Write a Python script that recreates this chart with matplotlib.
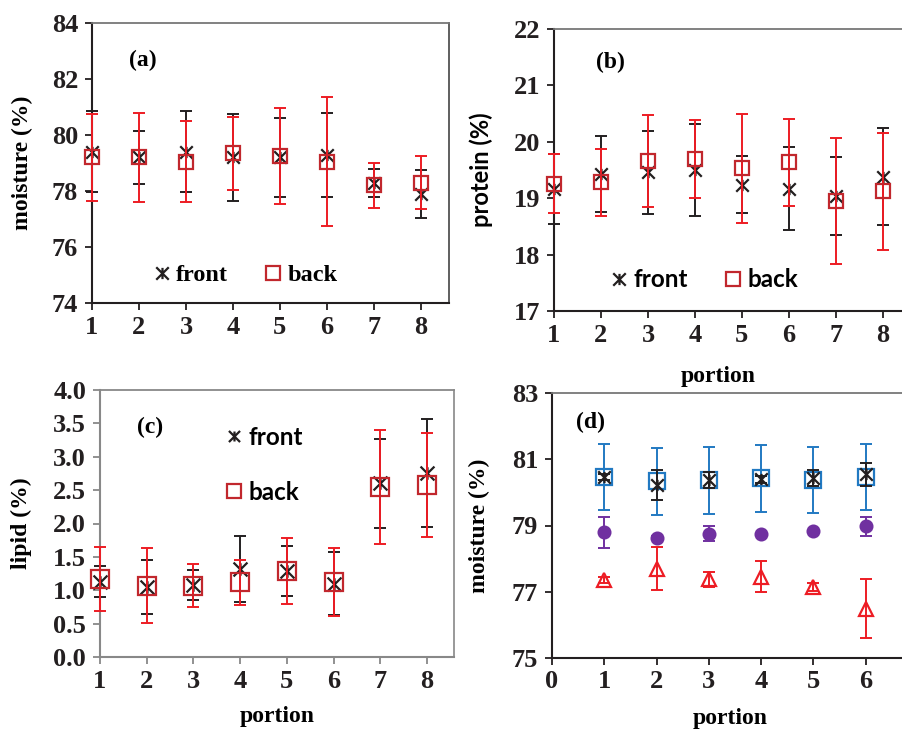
import numpy as np
import matplotlib
matplotlib.use("Agg")
import matplotlib.pyplot as plt
from matplotlib.path import Path
from matplotlib.lines import Line2D

# ---- data ----
portion8 = [1, 2, 3, 4, 5, 6, 7, 8]
portion6 = [1, 2, 3, 4, 5, 6]

moist_front = [79.4, 79.2, 79.4, 79.2, 79.2, 79.3, 78.3, 77.9]
moist_front_err = [1.45, 0.95, 1.45, 1.55, 1.4, 1.5, 0.5, 0.85]
moist_back = [79.2, 79.2, 79.05, 79.35, 79.25, 79.05, 78.2, 78.3]
moist_back_err = [1.55, 1.6, 1.45, 1.3, 1.7, 2.3, 0.8, 0.95]

prot_front = [19.17, 19.43, 19.46, 19.5, 19.24, 19.17, 19.04, 19.38]
prot_front_err = [0.62, 0.67, 0.74, 0.82, 0.5, 0.73, 0.69, 0.86]
prot_back = [19.26, 19.28, 19.66, 19.7, 19.53, 19.64, 18.95, 19.12]
prot_back_err = [0.53, 0.6, 0.82, 0.69, 0.97, 0.77, 1.12, 1.04]

lipid_front = [1.13, 1.05, 1.08, 1.32, 1.29, 1.10, 2.60, 2.76]
lipid_front_err = [0.23, 0.41, 0.23, 0.49, 0.38, 0.47, 0.67, 0.81]
lipid_back = [1.17, 1.07, 1.07, 1.12, 1.29, 1.13, 2.55, 2.58]
lipid_back_err = [0.48, 0.56, 0.32, 0.34, 0.5, 0.51, 0.85, 0.78]

d_blue = [80.46, 80.33, 80.36, 80.42, 80.38, 80.47]
d_blue_err = [1.0, 1.0, 1.0, 1.0, 1.0, 1.0]
d_black = [80.46, 80.23, 80.38, 80.39, 80.43, 80.54]
d_black_err = [0.1, 0.45, 0.25, 0.1, 0.25, 0.35]
d_purple = [78.8, 78.63, 78.75, 78.75, 78.82, 78.98]
d_purple_err = [0.47, 0.05, 0.23, 0.0, 0.0, 0.29]
d_red = [77.35, 77.7, 77.38, 77.45, 77.15, 76.49]
d_red_err = [0.1, 0.65, 0.23, 0.47, 0.12, 0.88]

BLACK = "#231F20"
RED = "#ED1C24"
DRED = "#C1272D"
BLUE = "#2179C2"
PURPLE = "#7030A0"
SERIF = "Liberation Serif"
SANS = "Lato"

star = Path([(-1, -1), (1, 1), (-1, 1), (1, -1), (0, -0.9), (0, 0.9)],
            [Path.MOVETO, Path.LINETO, Path.MOVETO, Path.LINETO,
             Path.MOVETO, Path.LINETO])

W, H = 903, 730
fig = plt.figure(figsize=(W / 100, H / 100), dpi=100)


def axes_px(left, top, right, bottom):
    return fig.add_axes([left / W, 1 - bottom / H, (right - left) / W,
                         (bottom - top) / H])


def style(ax, grey=False):
    main = "#888888" if grey else BLACK
    for s in ["left", "bottom"]:
        ax.spines[s].set_color(main)
        ax.spines[s].set_linewidth(1.5)
    ax.spines["top"].set_color("#777777" if not grey else main)
    ax.spines["right"].set_color("#444444" if not grey else main)
    ax.spines["top"].set_linewidth(1.3)
    ax.spines["right"].set_linewidth(1.2)
    ax.tick_params(direction="out", length=5, width=1.3, color=main,
                   labelsize=19)
    ax.tick_params(axis="y", pad=5)
    ax.tick_params(axis="x", pad=4)
    for lab in ax.get_xticklabels() + ax.get_yticklabels():
        lab.set_fontfamily(SERIF)
        lab.set_fontweight("bold")
        lab.set_color(BLACK)


def eb(ax, x, y, e, marker, ms, ec, fc, bar, mew=1.6, z=3):
    ax.errorbar(x, y, yerr=e, fmt="none", ecolor=bar, elinewidth=1.4,
                capsize=4.3, capthick=1.4, zorder=z, clip_on=False)
    ax.plot(x, y, linestyle="none", marker=marker, ms=ms, mec=ec, mfc=fc,
            mew=mew, zorder=z + 0.5, clip_on=False)


LAB = 17

# ---- (a) moisture ----
ax = axes_px(92, 23, 449, 303)
eb(ax, portion8, moist_front, moist_front_err, star, 9, BLACK, "none", BLACK)
eb(ax, portion8, moist_back, moist_back_err, "s", 10.5, DRED, "none", RED, z=4)
ax.set_xlim(1, 8.6)
ax.set_ylim(74, 84)
ax.set_xticks(portion8)
ax.set_yticks(np.arange(74, 85, 2))
style(ax)
ax.set_ylabel("moisture (%)", fontfamily=SERIF, fontweight="bold", fontsize=LAB)
ax.yaxis.set_label_coords(-0.165, 0.5)
ax.text(0.143, 0.868, "(a)", transform=ax.transAxes, ha="center", va="center",
        fontfamily=SERIF, fontweight="bold", fontsize=17)
h = [Line2D([], [], ls="none", marker=star, ms=9, mec=BLACK, mfc="none", mew=1.6),
     Line2D([], [], ls="none", marker="s", ms=10.5, mec=DRED, mfc="none", mew=1.6)]
ax.legend(h, ["front", "back"], loc="center", bbox_to_anchor=(0.43, 0.1),
          ncol=2, frameon=False, handlelength=0.7, handletextpad=0.25,
          columnspacing=1.5, prop={"family": SERIF, "weight": "bold", "size": 17.5})

# ---- (b) protein ----
ax = axes_px(554, 29, 911, 311)
eb(ax, portion8, prot_front, prot_front_err, star, 9, BLACK, "none", BLACK)
eb(ax, portion8, prot_back, prot_back_err, "s", 10.5, DRED, "none", RED, z=4)
ax.set_xlim(1, 8.6)
ax.set_ylim(17, 22)
ax.set_xticks(portion8)
ax.set_yticks(np.arange(17, 23, 1))
style(ax)
ax.set_ylabel("protein (%)", fontfamily=SANS, fontweight="bold", fontsize=LAB)
ax.yaxis.set_label_coords(-0.171, 0.5)
ax.set_xlabel("portion", fontfamily=SERIF, fontweight="bold", fontsize=LAB)
ax.xaxis.set_label_coords(0.459, -0.195)
ax.text(0.157, 0.883, "(b)", transform=ax.transAxes, ha="center", va="center",
        fontfamily=SERIF, fontweight="bold", fontsize=17)
ax.legend(h, ["front", "back"], loc="center", bbox_to_anchor=(0.42, 0.11),
          ncol=2, frameon=False, handlelength=0.7, handletextpad=0.25,
          columnspacing=1.5, prop={"family": SANS, "weight": "bold", "size": 17.5})

# ---- (c) lipid ----
ax = axes_px(100, 390, 454, 657)
eb(ax, portion8, lipid_front, lipid_front_err, star, 10, BLACK, "none", BLACK)
eb(ax, portion8, lipid_back, lipid_back_err, "s", 13, DRED, "none", RED, z=4)
ax.set_xlim(1, 8.58)
ax.set_ylim(0, 4)
ax.set_xticks(portion8)
ax.set_yticks(np.arange(0, 4.01, 0.5))
ax.set_yticklabels([f"{v:.1f}" for v in np.arange(0, 4.01, 0.5)])
style(ax, grey=True)
ax.set_ylabel("lipid (%)", fontfamily=SERIF, fontweight="bold", fontsize=LAB)
ax.yaxis.set_label_coords(-0.192, 0.5)
ax.set_xlabel("portion", fontfamily=SERIF, fontweight="bold", fontsize=LAB)
ax.xaxis.set_label_coords(0.5, -0.183)
ax.text(0.141, 0.861, "(c)", transform=ax.transAxes, ha="center", va="center",
        fontfamily=SERIF, fontweight="bold", fontsize=17)
hc = [Line2D([], [], ls="none", marker=star, ms=8, mec=BLACK, mfc="none", mew=1.6),
      Line2D([], [], ls="none", marker="s", ms=10, mec=DRED, mfc="none", mew=1.6)]
ax.legend(hc, ["front", "back"], loc="center", bbox_to_anchor=(0.465, 0.72),
          frameon=False, handlelength=0.7, handletextpad=0.25,
          labelspacing=1.3, prop={"family": SANS, "weight": "bold", "size": 17.5})

# ---- (d) moisture by portion ----
ax = axes_px(552, 393, 918, 658)
eb(ax, portion6, d_blue, d_blue_err, "s", 12, BLUE, "none", BLUE)
eb(ax, portion6, d_black, d_black_err, star, 9, BLACK, "none", BLACK, z=4)
eb(ax, portion6, d_purple, d_purple_err, "o", 8.5, PURPLE, PURPLE, PURPLE)
eb(ax, portion6, d_red, d_red_err, "^", 10, RED, "none", RED)
ax.set_xlim(0, 7)
ax.set_ylim(75, 83)
ax.set_xticks(range(0, 7))
ax.set_yticks(np.arange(75, 84, 2))
style(ax)
ax.set_ylabel("moisture (%)", fontfamily=SERIF, fontweight="bold", fontsize=LAB)
ax.yaxis.set_label_coords(-0.169, 0.5)
ax.set_xlabel("portion", fontfamily=SERIF, fontweight="bold", fontsize=LAB)
ax.xaxis.set_label_coords(0.486, -0.19)
ax.text(0.104, 0.89, "(d)", transform=ax.transAxes, ha="center", va="center",
        fontfamily=SERIF, fontweight="bold", fontsize=17)

fig.savefig("out.png", dpi=100)
